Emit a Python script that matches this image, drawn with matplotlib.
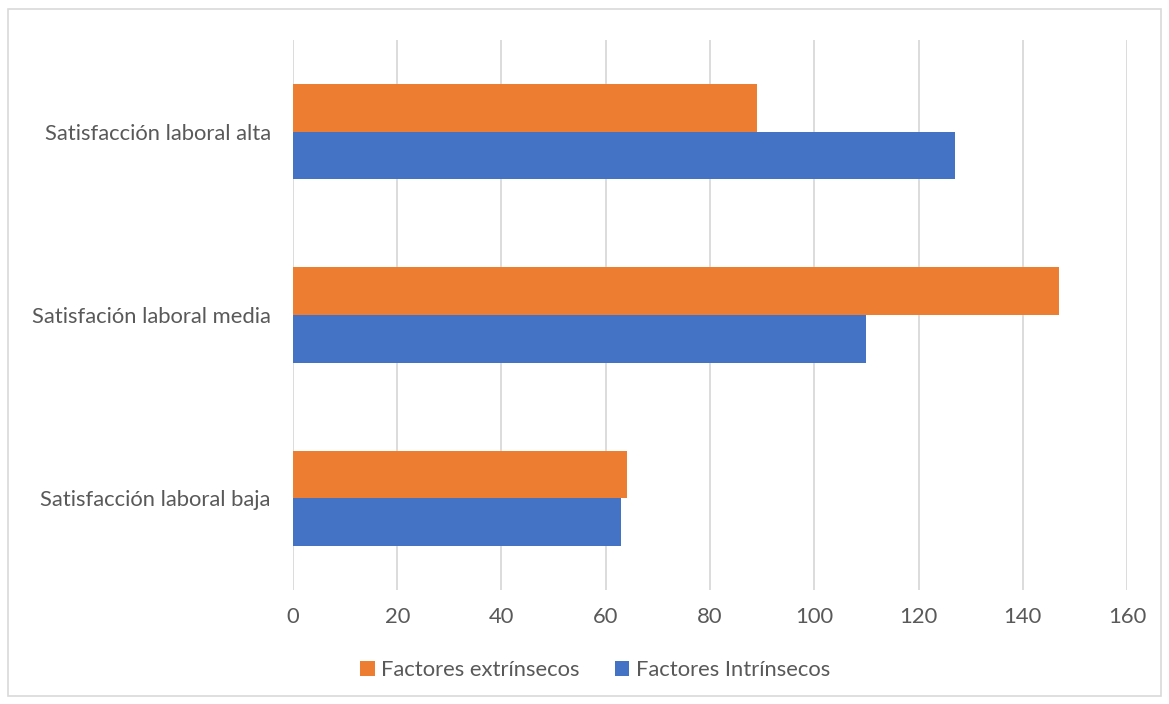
import matplotlib.pyplot as plt
from matplotlib.patches import Rectangle
import numpy as np

categories = ["Satisfacción laboral baja", "Satisfación laboral media", "Satisfacción laboral alta"]
intrinsecos = [63, 110, 127]
extrinsecos = [64, 147, 89]
xticks = [0, 20, 40, 60, 80, 100, 120, 140, 160]

plt.rcParams['font.family'] = ['Lato', 'DejaVu Sans']
text_color = "#595959"

fig = plt.figure(figsize=(11.69, 7.04), dpi=100)
ax = fig.add_axes([0.2506, 0.162, 0.7135, 0.781])

y = np.arange(len(categories))
h = 0.26
ax.barh(y - h / 2, intrinsecos, height=h, color="#4472c4", label="Factores Intrínsecos", zorder=3)
ax.barh(y + h / 2, extrinsecos, height=h, color="#ed7d31", label="Factores extrínsecos", zorder=3)

ax.set_xlim(0, 160)
ax.set_ylim(-0.5, 2.5)
ax.set_xticks(xticks)
ax.set_yticks(y)
ax.set_yticklabels(categories)
ax.tick_params(axis="both", length=0, colors=text_color, labelsize=15.8)
ax.tick_params(axis="x", pad=12)
ax.tick_params(axis="y", pad=16)
ax.grid(axis="x", color="#d9d9d9", linewidth=1.3, zorder=0)
for s in ax.spines.values():
    s.set_visible(False)

handles, labels = ax.get_legend_handles_labels()
fig.legend(handles[::-1], labels[::-1], loc="center", bbox_to_anchor=(0.509, 0.048), ncol=2,
           frameon=False, fontsize=15.8, labelcolor=text_color, handlelength=0.65,
           handleheight=0.65, handletextpad=0.3, columnspacing=1.6)

fig.patches.append(Rectangle((0.007, 0.012), 0.986, 0.975, transform=fig.transFigure,
                             fill=False, edgecolor="#d9d9d9", linewidth=1.2))

fig.savefig("out.png", dpi=100)
